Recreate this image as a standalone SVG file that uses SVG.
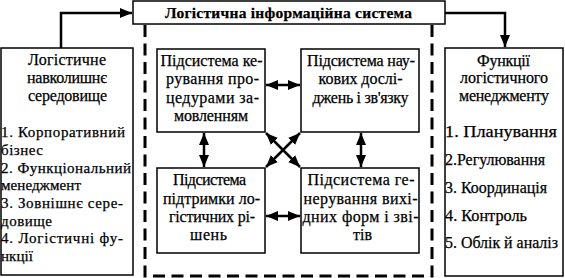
<svg xmlns="http://www.w3.org/2000/svg" width="565" height="278" viewBox="0 0 565 278">
<style>
.box{fill:#fff;stroke:#000;stroke-width:1.5}
.t{font-family:"Liberation Serif","Times New Roman",serif;font-size:16px;fill:#000;stroke:#000;stroke-width:0.25}
.b{font-weight:bold;font-size:15.5px}
.l{font-size:15px}
.con{fill:none;stroke:#000;stroke-width:2.5}
.dash{fill:none;stroke:#000;stroke-width:3;stroke-dasharray:12 6.5}
</style>
<defs>
<marker id="ah" viewBox="0 0 12 10" refX="12" refY="5" markerWidth="4.8" markerHeight="4" orient="auto-start-reverse" markerUnits="strokeWidth">
<path d="M0,0 L12,5 L0,10 z" fill="#000"/>
</marker>
</defs>
<g id="frame">
<path class="dash" d="M145,25 V276 H432 V25"/>
</g>
<g id="title">
<rect class="box" x="133" y="1" width="312" height="23"/>
<text class="t b" x="165" y="18" textLength="247">Логістична інформаційна система</text>
</g>
<g id="env">
<rect class="box" x="1" y="48" width="132" height="227"/>
<text class="t" x="28" y="65" textLength="78">Логістичне</text>
<text class="t" x="27" y="83" textLength="80">навколишнє</text>
<text class="t" x="28" y="101" textLength="79">середовище</text>
<text class="t l" x="1" y="137" textLength="124">1. Корпоративний</text>
<text class="t l" x="1" y="155" textLength="42">бізнес</text>
<text class="t l" x="1" y="172.5" textLength="130">2. Функціональний</text>
<text class="t l" x="1" y="190" textLength="80">менеджмент</text>
<text class="t l" x="1" y="208" textLength="122">3. Зовнішнє сере-</text>
<text class="t l" x="1" y="225.5" textLength="51">довище</text>
<text class="t l" x="1" y="243" textLength="122">4. Логістичні  фу-</text>
<text class="t l" x="1" y="261" textLength="32">нкції</text>
</g>
<g id="func">
<rect class="box" x="445" y="48" width="118" height="228"/>
<text class="t" x="477" y="66" textLength="53">Функції</text>
<text class="t" x="460" y="83" textLength="88">логістичного</text>
<text class="t" x="459" y="101" textLength="90">менеджменту</text>
<text class="t" x="445" y="137" textLength="112" lengthAdjust="spacingAndGlyphs">1. Планування</text>
<text class="t" x="445" y="164.5" textLength="100" lengthAdjust="spacingAndGlyphs">2.Регулювання</text>
<text class="t" x="445" y="193" textLength="102" lengthAdjust="spacingAndGlyphs">3. Координація</text>
<text class="t" x="445" y="221" textLength="82" lengthAdjust="spacingAndGlyphs">4. Контроль</text>
<text class="t" x="445" y="248" textLength="113" lengthAdjust="spacingAndGlyphs">5. Облік й аналіз</text>
</g>
<g id="s1">
<rect class="box" x="157" y="49" width="108" height="83"/>
<text class="t" x="160.5" y="65.5" textLength="102">Підсистема ке-</text>
<text class="t" x="166" y="84" textLength="93">рування про-</text>
<text class="t" x="166" y="102.5" textLength="93">цедурами за-</text>
<text class="t" x="174" y="121" textLength="74">мовленням</text>
</g>
<g id="s2">
<rect class="box" x="301" y="49" width="118" height="83"/>
<text class="t" x="307" y="65.5" textLength="108">Підсистема нау-</text>
<text class="t" x="318.5" y="84" textLength="84">кових дослі-</text>
<text class="t" x="312.5" y="102.5" textLength="96">джень і зв'язку</text>
</g>
<g id="s3">
<rect class="box" x="157" y="168" width="108" height="85"/>
<text class="t" x="173" y="185" textLength="73">Підсистема</text>
<text class="t" x="163" y="203.5" textLength="97">підтримки ло-</text>
<text class="t" x="169" y="221.5" textLength="86">гістичних рі-</text>
<text class="t" x="190" y="239.5" textLength="37">шень</text>
</g>
<g id="s4">
<rect class="box" x="301" y="168" width="118" height="85"/>
<text class="t" x="307.5" y="185" textLength="107">Підсистема ге-</text>
<text class="t" x="303.5" y="203.5" textLength="114">нерування вихі-</text>
<text class="t" x="302.5" y="221.5" textLength="116">дних форм і зві-</text>
<text class="t" x="353" y="239.5" textLength="19">тів</text>
</g>
<g id="connectors">
<path class="con" d="M61,48 V13 H132" marker-end="url(#ah)"/>
<path class="con" d="M445,13 H505 V47" marker-end="url(#ah)"/>
<path class="con" d="M266,85 H300" marker-start="url(#ah)" marker-end="url(#ah)"/>
<path class="con" d="M266,216 H300" marker-start="url(#ah)" marker-end="url(#ah)"/>
<path class="con" d="M204,133 V167" marker-start="url(#ah)" marker-end="url(#ah)"/>
<path class="con" d="M361,133 V167" marker-start="url(#ah)" marker-end="url(#ah)"/>
<path class="con" d="M266,133 L300,167" marker-start="url(#ah)" marker-end="url(#ah)"/>
<path class="con" d="M300,133 L266,167" marker-start="url(#ah)" marker-end="url(#ah)"/>
</g>
</svg>
